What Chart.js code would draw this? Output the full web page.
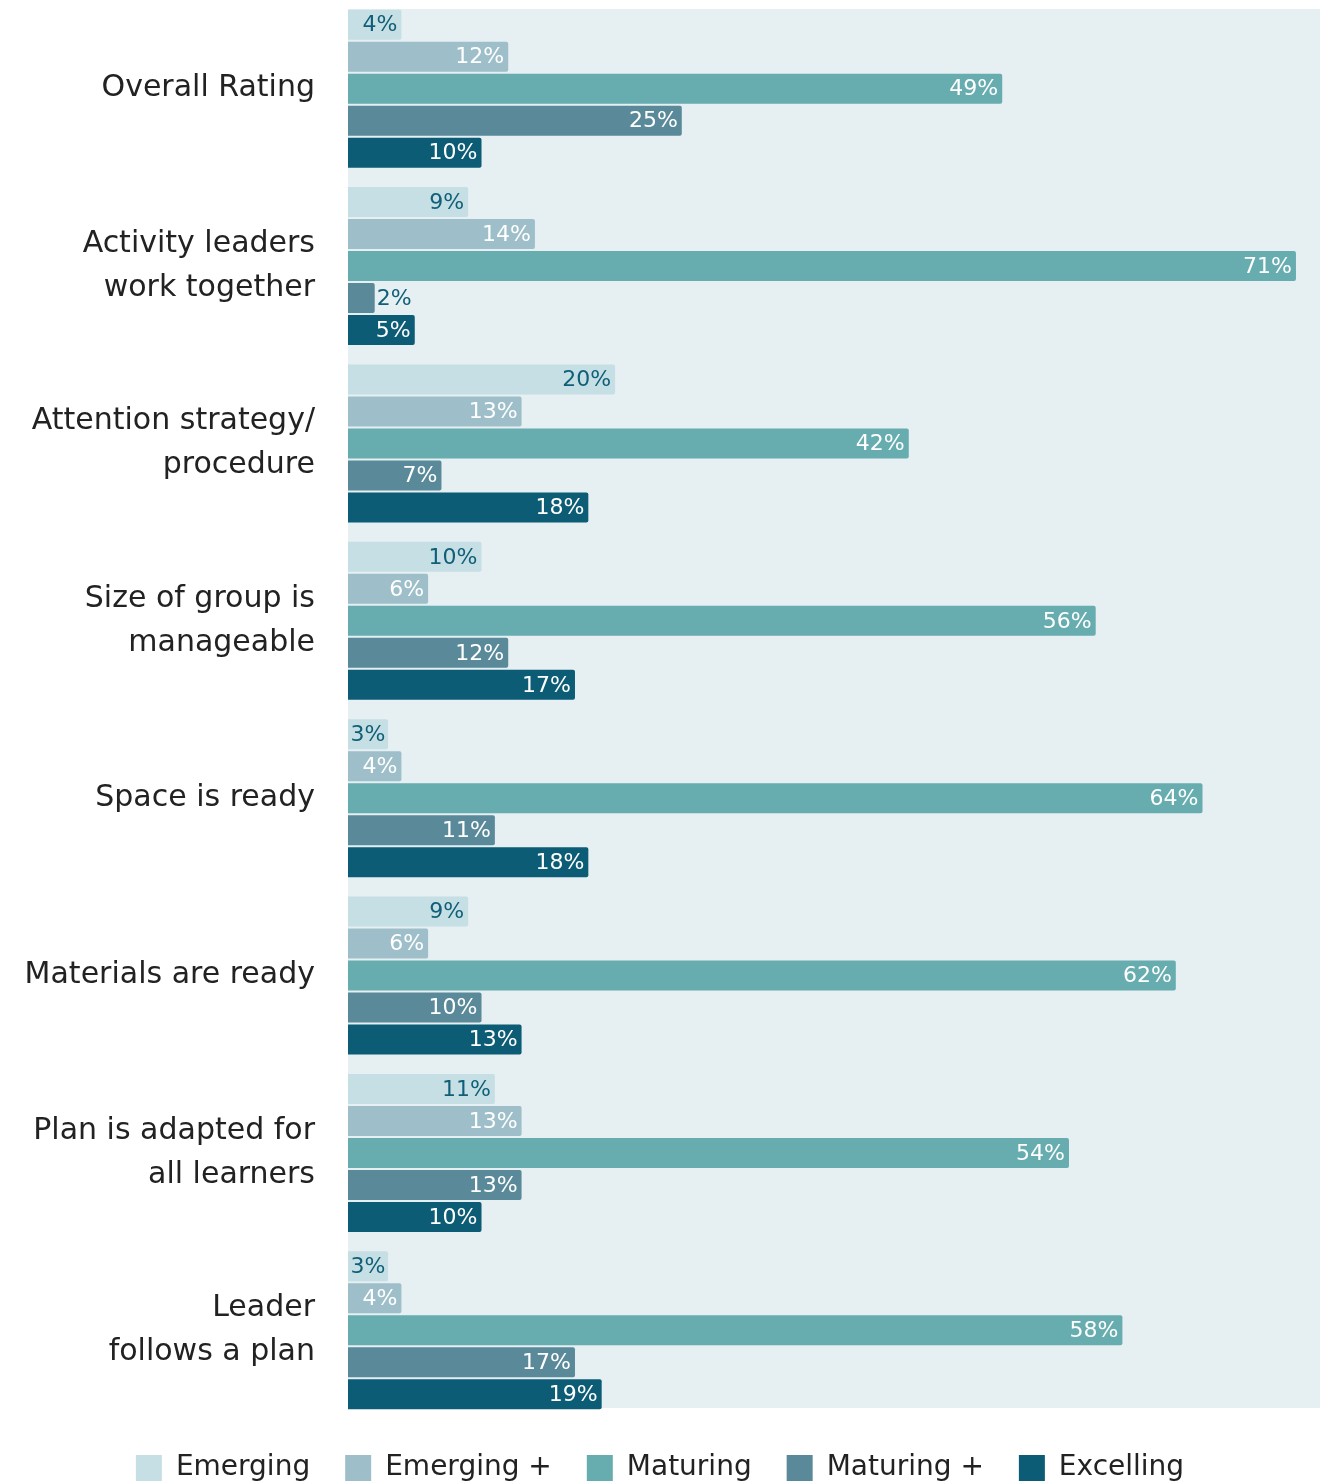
<!DOCTYPE html>
<html>
<head>
<meta charset="utf-8">
<script src="https://cdn.jsdelivr.net/npm/chart.js@4"></script>
<style>
  html, body { margin: 0; padding: 0; background: #fff; overflow: hidden; }
  #wrap { width: 1320px; height: 1492px; position: relative; }
</style>
</head>
<body>
<div id="wrap"><canvas id="ratingChart"></canvas></div>
<script>
const categories = [
    "Overall Rating",
    ["Activity leaders", "work together"],
    ["Attention strategy/", "procedure"],
    ["Size of group is", "manageable"],
    "Space is ready",
    "Materials are ready",
    ["Plan is adapted for", "all learners"],
    ["Leader", "follows a plan"]
];
const seriesNames = ["Emerging", "Emerging +", "Maturing", "Maturing +", "Excelling"];
const emerging     = [4, 9, 20, 10, 3, 9, 11, 3];
const emergingPlus = [12, 14, 13, 6, 4, 6, 13, 4];
const maturing     = [49, 71, 42, 56, 64, 62, 54, 58];
const maturingPlus = [25, 2, 7, 12, 11, 10, 13, 17];
const excelling    = [10, 5, 18, 17, 18, 13, 10, 19];

const colors = ["#c6dfe4", "#9ebfc9", "#67adb0", "#5a8a99", "#0c5c75"];
const labelColors = ["#0f5f78", "#ffffff", "#ffffff", "#ffffff", "#ffffff"];
const darkLabel = "#0f5f78";
const fontFamily = "'DejaVu Sans', 'Noto Sans', sans-serif";

// light panel behind the bars
const panelBg = {
    id: "panelBg",
    beforeDraw(chart) {
        const { ctx, chartArea } = chart;
        ctx.save();
        ctx.fillStyle = "#e6eff2";
        ctx.fillRect(chartArea.left, chartArea.top + 9, chartArea.right - chartArea.left, chartArea.bottom - chartArea.top - 20);
        ctx.restore();
    }
};

// percentage labels at the end of each bar
const barLabels = {
    id: "barLabels",
    afterDatasetsDraw(chart) {
        const { ctx } = chart;
        ctx.save();
        ctx.font = "22px " + fontFamily;
        ctx.textBaseline = "middle";
        chart.data.datasets.forEach((ds, i) => {
            const meta = chart.getDatasetMeta(i);
            meta.data.forEach((bar, j) => {
                const text = ds.data[j] + "%";
                const w = ctx.measureText(text).width;
                const barW = bar.x - bar.base;
                if (w + 3 > barW) {
                    ctx.fillStyle = darkLabel;
                    ctx.textAlign = "left";
                    ctx.fillText(text, bar.x + 2, bar.y + 1);
                } else {
                    ctx.fillStyle = labelColors[i];
                    ctx.textAlign = "right";
                    const pad = Math.min(4, (barW - w) / 2);
                    ctx.fillText(text, bar.x - pad, bar.y + 1);
                }
            });
        });
        ctx.restore();
    }
};

const allSeries = [emerging, emergingPlus, maturing, maturingPlus, excelling];

new Chart(document.getElementById("ratingChart"), {
    type: "bar",
    data: {
        labels: categories,
        datasets: allSeries.map((vals, i) => ({
            label: seriesNames[i],
            data: vals,
            backgroundColor: colors[i],
            borderRadius: 2,
            borderSkipped: "start",
            categoryPercentage: 0.902,
            barPercentage: 0.9375
        }))
    },
    options: {
        indexAxis: "y",
        responsive: true,
        maintainAspectRatio: false,
        animation: false,
        layout: { padding: 0 },
        scales: {
            x: { display: false, min: 0, max: 72.8 },
            y: {
                grid: { display: false, drawTicks: false },
                border: { display: false },
                ticks: {
                    color: "#222222",
                    padding: 33,
                    font: { family: fontFamily, size: 30, lineHeight: 1.47 }
                },
                afterFit(scale) {
                    scale.width = 348;
                    scale.paddingTop = 0;
                    scale.paddingBottom = 0;
                }
            }
        },
        plugins: {
            legend: {
                position: "bottom",
                labels: {
                    color: "#222222",
                    boxWidth: 26,
                    boxHeight: 26,
                    padding: 35,
                    font: { family: fontFamily, size: 28 }
                }
            },
            tooltip: { enabled: false }
        }
    },
    plugins: [panelBg, barLabels]
});
</script>
</body>
</html>
